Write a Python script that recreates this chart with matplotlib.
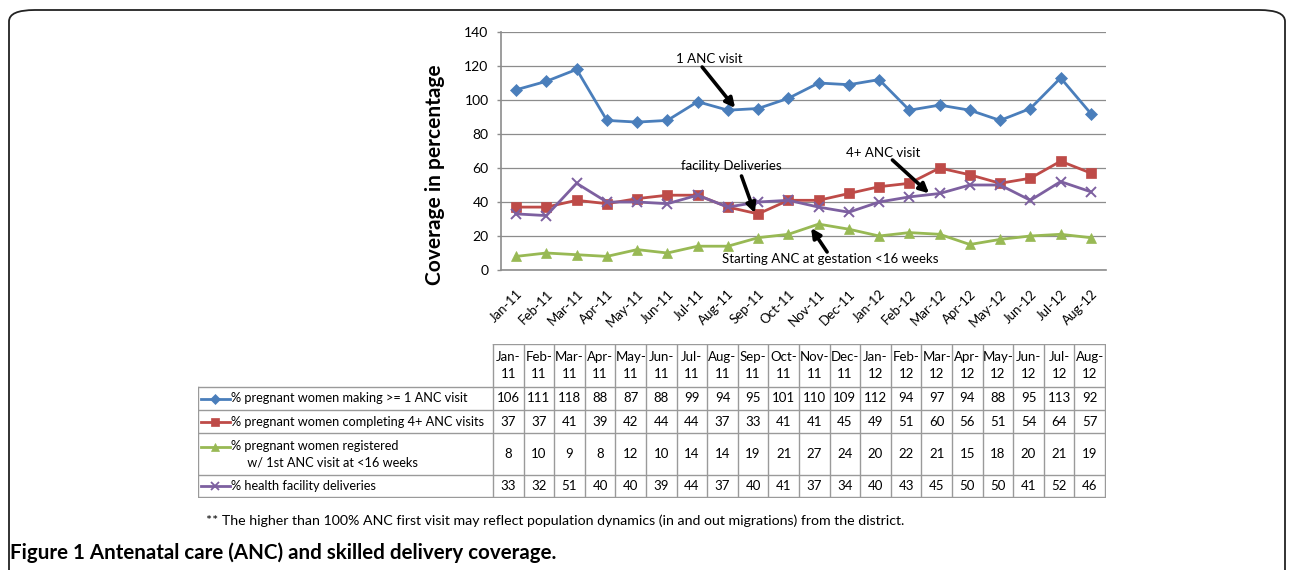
import matplotlib
matplotlib.use("Agg")
import matplotlib.pyplot as plt
from matplotlib.patches import FancyBboxPatch
import numpy as np

plt.rcParams['font.family'] = ['Lato', 'DejaVu Sans']

# ---- data ----
months = ["Jan-11", "Feb-11", "Mar-11", "Apr-11", "May-11", "Jun-11", "Jul-11",
          "Aug-11", "Sep-11", "Oct-11", "Nov-11", "Dec-11", "Jan-12", "Feb-12",
          "Mar-12", "Apr-12", "May-12", "Jun-12", "Jul-12", "Aug-12"]
anc1 = [106, 111, 118, 88, 87, 88, 99, 94, 95, 101, 110, 109, 112, 94, 97, 94, 88, 95, 113, 92]
anc4 = [37, 37, 41, 39, 42, 44, 44, 37, 33, 41, 41, 45, 49, 51, 60, 56, 51, 54, 64, 57]
anc_early = [8, 10, 9, 8, 12, 10, 14, 14, 19, 21, 27, 24, 20, 22, 21, 15, 18, 20, 21, 19]
facility = [33, 32, 51, 40, 40, 39, 44, 37, 40, 41, 37, 34, 40, 43, 45, 50, 50, 41, 52, 46]

series_labels = ["% pregnant women making >= 1 ANC visit",
                 "% pregnant women completing 4+ ANC visits",
                 "% pregnant women registered\n     w/ 1st ANC visit at <16 weeks",
                 "% health facility deliveries"]
series_values = [anc1, anc4, anc_early, facility]
colors = ["#4A7EBB", "#BE4B48", "#98B954", "#7D60A0"]
markers = ["D", "s", "^", "x"]

W, H = 1292, 570
fig = plt.figure(figsize=(W / 100, H / 100), dpi=100)


def px_rect(x0, y0, x1, y1):
    # pixel box (top-left origin) -> figure fraction rect
    return [x0 / W, 1 - y1 / H, (x1 - x0) / W, (y1 - y0) / H]


# rounded frame around the figure panel
frame = FancyBboxPatch((9 / W, -0.2), 1276 / W, 1 - 10 / H + 0.2,
                       boxstyle="round,pad=0,rounding_size=0.02",
                       transform=fig.transFigure, fill=False,
                       edgecolor="#222222", linewidth=1.3, clip_on=False)
fig.patches.append(frame)

# ---- line chart ----
ax = fig.add_axes(px_rect(501, 32, 1106, 270))
x = np.arange(len(months))
for vals, c, m in zip(series_values, colors, markers):
    mew = 1.4 if m == "x" else 0.5
    ax.plot(x, vals, color=c, lw=2.0, marker=m, ms=7 if m != "D" else 6,
            mfc=c, mec=c, mew=mew, zorder=3)

ax.set_xlim(-0.5, len(months) - 0.5)
ax.set_ylim(0, 140)
ax.set_yticks(np.arange(0, 141, 20))
ax.yaxis.grid(True, color="#8C8C8C", lw=0.9)
ax.set_axisbelow(True)
for s in ["top", "right"]:
    ax.spines[s].set_visible(False)
for s in ["left", "bottom"]:
    ax.spines[s].set_color("#8C8C8C")
    ax.spines[s].set_linewidth(1.2)
ax.set_xticks(x)
ax.set_xticklabels(months, rotation=45, ha="right", rotation_mode="anchor", fontsize=9.5)
ax.tick_params(axis="x", length=0, pad=13)
ax.tick_params(axis="y", length=3, color="#8C8C8C", width=1, labelsize=10, pad=6)
ax.set_ylabel("Coverage in percentage", fontsize=15, fontweight="bold")
ax.yaxis.set_label_coords(-0.093, 0.40)

arrow = dict(arrowstyle="-|>", color="black", lw=2.6, mutation_scale=14,
             shrinkA=0, shrinkB=0)
ax.annotate("", xy=(7.24, 95.3), xytext=(6.15, 119.4), arrowprops=arrow)
ax.text(6.38, 124.1, "1 ANC visit", ha="center", va="center", fontsize=9.5)
ax.annotate("", xy=(7.89, 33.5), xytext=(7.45, 55.3), arrowprops=arrow)
ax.text(7.12, 61.3, "facility Deliveries", ha="center", va="center", fontsize=9.5)
ax.annotate("", xy=(13.65, 45.1), xytext=(12.44, 64.7), arrowprops=arrow)
ax.text(12.14, 69.0, "4+ ANC visit", ha="center", va="center", fontsize=9.5)
ax.annotate("", xy=(9.75, 24.7), xytext=(10.28, 10.6), arrowprops=arrow)
ax.text(10.4, 6.3, "Starting ANC at gestation <16 weeks", ha="center", va="center",
        fontsize=9.5, zorder=5)

# ---- data table ----
tx = fig.add_axes(px_rect(198, 344, 1106, 498))
tx.set_xlim(198, 1106)
tx.set_ylim(498, 344)
tx.axis("off")
col0, col1 = 493, 1105
ncol = len(months)
cw = (col1 - col0) / ncol
rows = [344, 387, 410, 433, 475, 497]
gc = "#9A9A9A"

# horizontal lines
tx.plot([col0, col1], [rows[0], rows[0]], color=gc, lw=1)
for r in rows[1:]:
    tx.plot([198, col1], [r, r], color=gc, lw=1)
# vertical lines
tx.plot([198, 198], [rows[1], rows[-1]], color=gc, lw=1)
for i in range(ncol + 1):
    xc = col0 + i * cw
    tx.plot([xc, xc], [rows[0], rows[-1]], color=gc, lw=1)

for i, mth in enumerate(months):
    xc = col0 + (i + 0.5) * cw
    mon, yr = mth.split("-")
    tx.text(xc, (rows[0] + rows[1]) / 2, mon + "-\n" + yr, ha="center", va="center",
            fontsize=9.5, linespacing=1.5)

for j, (lab, vals, c, m) in enumerate(zip(series_labels, series_values, colors, markers)):
    yc = (rows[j + 1] + rows[j + 2]) / 2
    ly = yc - 7 if j == 2 else yc
    tx.plot([201, 230], [ly, ly], color=c, lw=2)
    tx.plot([215.5], [ly], marker=m, color=c, ms=6 if m != "D" else 5,
            mew=1.3 if m == "x" else 0.5)
    tx.text(231, yc, lab, ha="left", va="center", fontsize=9.2, linespacing=1.45)
    for i, v in enumerate(vals):
        tx.text(col0 + (i + 0.5) * cw, yc, str(v), ha="center", va="center", fontsize=9.5)

# ---- footnote and caption ----
fig.text(555 / W, 1 - 521 / H,
         "** The higher than 100% ANC first visit may reflect population dynamics "
         "(in and out migrations) from the district.",
         ha="center", va="center", fontsize=10.2)
fig.text(10 / W, 1 - 553 / H, "Figure 1 Antenatal care (ANC) and skilled delivery coverage.",
         ha="left", va="center", fontsize=14.8, fontweight="bold")

fig.savefig("out.png", dpi=100)
